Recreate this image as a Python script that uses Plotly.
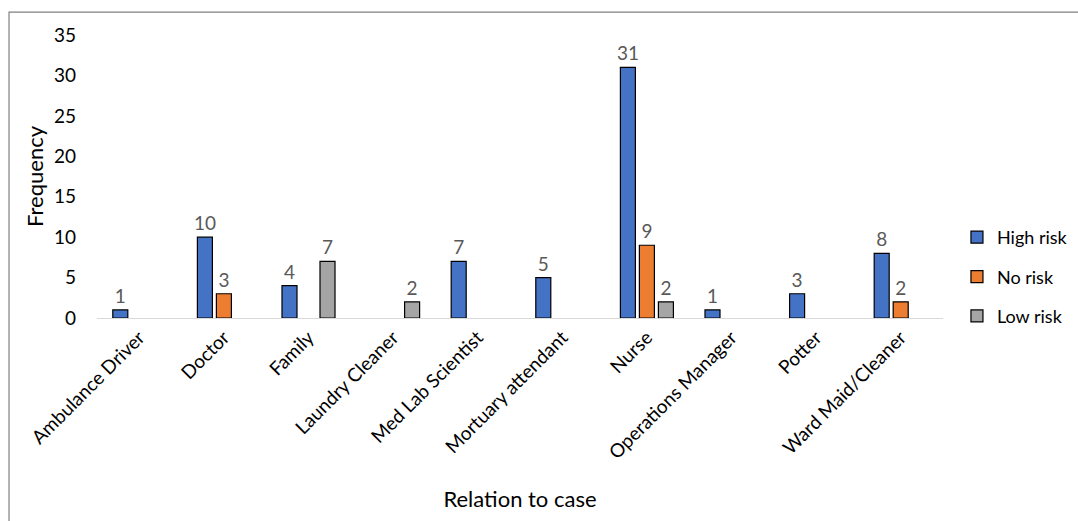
import plotly.graph_objects as go

categories = ["Ambulance Driver", "Doctor", "Family", "Laundry Cleaner", "Med Lab Scientist",
              "Mortuary attendant", "Nurse", "Operations Manager", "Potter", "Ward Maid/Cleaner"]
high_risk = [1, 10, 4, None, 7, 5, 31, 1, 3, 8]
no_risk = [None, 3, None, None, None, None, 9, None, None, 2]
low_risk = [None, None, 7, 2, None, None, 2, None, None, None]
y_ticks = [0, 5, 10, 15, 20, 25, 30, 35]

series = [("High risk", high_risk, "#4472C4"),
          ("No risk", no_risk, "#ED7D31"),
          ("Low risk", low_risk, "#A5A5A5")]

FONT = "Lato, 'Open Sans', sans-serif"

fig = go.Figure()
for name, vals, color in series:
    fig.add_trace(go.Bar(
        name=name, x=categories, y=vals, legendgroup=name,
        marker=dict(color=color, line=dict(color="#000000", width=1.2)),
        text=[("" if v is None else str(v)) for v in vals],
        textposition="outside", cliponaxis=False, constraintext="none",
        textfont=dict(size=19, color="#595959", family=FONT),
    ))

fig.update_layout(
    width=1078, height=521,
    margin=dict(l=97, r=135, t=35, b=203, autoexpand=False),
    paper_bgcolor="white", plot_bgcolor="white",
    barmode="group", bargap=0.326, bargroupgap=0.21,
    font=dict(family=FONT, size=19, color="#000000"),
    legend=dict(x=0.0165 + 1, y=0.145, xanchor="left", yanchor="middle",
                font=dict(size=18, color="#000000", family=FONT),
                traceorder="grouped", tracegroupgap=13,
                itemwidth=30),
    showlegend=True,
    xaxis=dict(showgrid=False, showline=True, linecolor="#D9D9D9", linewidth=1,
               ticks="", tickangle=-45, tickfont=dict(size=19, color="#000000"),
               title=dict(text="Relation to case", font=dict(size=22, color="#000000"), standoff=29),
               automargin=False),
    yaxis=dict(range=[0, 35], tickvals=y_ticks, showgrid=False, showline=False,
               zeroline=False, ticks="", tickfont=dict(size=19, color="#000000"),
               ticklabelstandoff=20,
               title=dict(text="Frequency", font=dict(size=22, color="#000000"), standoff=4),
               automargin=False),
)

fig.add_shape(type="rect", xref="paper", yref="paper",
              x0=-0.104, x1=3, y0=-3, y1=1.081,
              line=dict(color="#808080", width=1.2), fillcolor="rgba(0,0,0,0)", layer="below")

fig.write_html("out.html")
